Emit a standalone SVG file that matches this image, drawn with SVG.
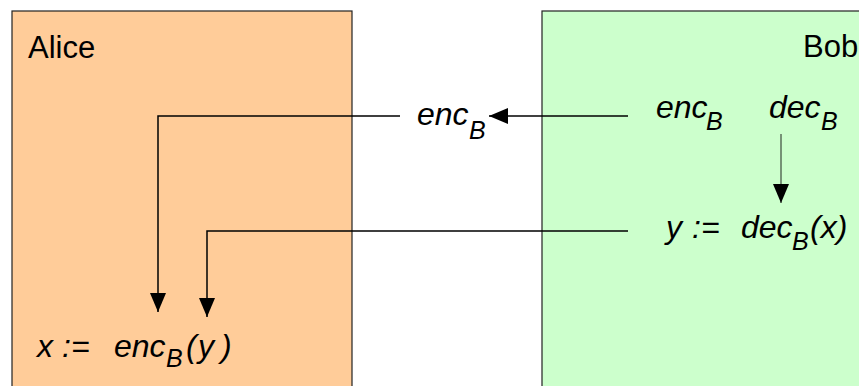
<svg xmlns="http://www.w3.org/2000/svg" width="859" height="386" viewBox="0 0 859 386">
<style>
text{font-family:"Liberation Sans",Arial,sans-serif;font-size:31px;fill:#000}
.it{font-style:italic;font-size:32px}
.sub{font-size:25px}
.box{stroke:#222;stroke-width:1.2}
.con{fill:none;stroke:#000;stroke-width:1.5}
</style>
<defs>
<marker id="ah" viewBox="0 0 19 16" refX="19" refY="8" markerWidth="19" markerHeight="16" markerUnits="userSpaceOnUse" orient="auto">
<path d="M0,0 L19,8 L0,16 z" fill="#000"/>
</marker>
</defs>
<g id="alice">
<rect class="box" x="12" y="11" width="340" height="390" fill="#FFCC99"/>
<text x="28" y="58">Alice</text>
<text class="it" y="357"><tspan x="37">x</tspan><tspan x="62">:=</tspan><tspan x="114">enc</tspan><tspan class="sub" x="166" dy="10">B</tspan><tspan x="186" dy="-10">(</tspan><tspan x="198">y</tspan><tspan x="221">)</tspan></text>
</g>
<g id="bob">
<rect class="box" x="542" y="11" width="330" height="390" fill="#CCFFCC"/>
<text x="803" y="57">Bob</text>
<text class="it" x="656" y="118">enc<tspan class="sub" x="706" dy="12">B</tspan></text>
<text class="it" x="769" y="118">dec<tspan class="sub" x="821" dy="12">B</tspan></text>
<text class="it" y="238"><tspan x="666">y</tspan><tspan x="692">:=</tspan><tspan x="741">dec</tspan><tspan class="sub" x="792" dy="12">B</tspan><tspan x="810" dy="-12">(x)</tspan></text>
</g>
<g id="encB">
<text class="it" x="417" y="125">enc<tspan class="sub" x="469" dy="14">B</tspan></text>
</g>
<g id="connectors">
<path class="con" d="M628,116 H489" marker-end="url(#ah)"/>
<path class="con" d="M400,116 H158 V312" marker-end="url(#ah)"/>
<path class="con" d="M628,231 H207 V317" marker-end="url(#ah)"/>
<path class="con" d="M781,134 V203" marker-end="url(#ah)" style="stroke:#5a6e5a"/>
</g>
</svg>
